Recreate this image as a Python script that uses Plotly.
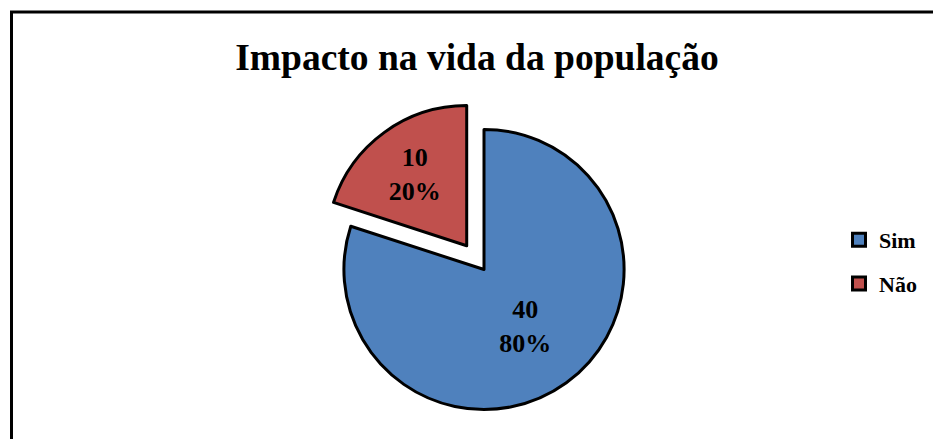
import plotly.graph_objects as go

labels = ["Sim", "Não"]
values = [40, 10]
colors = ["#4F81BD", "#C0504D"]
pulls = [0, 0.21]
title_text = "Impacto na vida da população"

W, H = 933, 439
FONT = "Liberation Serif"

fig = go.Figure()
fig.add_trace(go.Pie(
    labels=labels, values=values, sort=False, direction="clockwise", rotation=0,
    pull=pulls,
    marker=dict(colors=colors, line=dict(color="black", width=3)),
    textinfo="value+percent", textposition="inside", insidetextorientation="horizontal",
    texttemplate="<b>%{value}<br>%{percent:.0%}</b>",
    textfont=dict(family=FONT, size=26, color="black"),
    showlegend=False,
    domain=dict(x=[314.5 / W, 653.5 / W], y=[0, 339 / H]),
))

for lab, col in zip(labels, colors):
    fig.add_trace(go.Scatter(
        x=[None], y=[None], mode="markers", name="<b>" + lab + "</b>", legendgroup=lab,
        marker=dict(symbol="square", size=13, color=col, line=dict(color="black", width=3)),
    ))

fig.update_layout(
    width=W, height=H,
    margin=dict(l=0, r=0, t=0, b=0),
    paper_bgcolor="white", plot_bgcolor="white",
    xaxis=dict(visible=False), yaxis=dict(visible=False),
    title=dict(text="<b>" + title_text + "</b>", x=477 / W, xanchor="center",
               y=1 - 57 / H, yanchor="middle",
               font=dict(family=FONT, size=37.5, color="black")),
    legend=dict(x=839 / W, xanchor="left", y=1 - 262 / H, yanchor="middle",
                font=dict(family=FONT, size=22, color="black"),
                tracegroupgap=12, bgcolor="rgba(0,0,0,0)"),
    shapes=[dict(type="rect", xref="paper", yref="paper",
                 x0=11.5 / W, x1=1.2, y0=1 - 12 / H, y1=-0.2,
                 line=dict(color="black", width=3))],
)

fig.write_html("out.html", config={"displayModeBar": False},
               post_script="document.body.style.margin='0';")
